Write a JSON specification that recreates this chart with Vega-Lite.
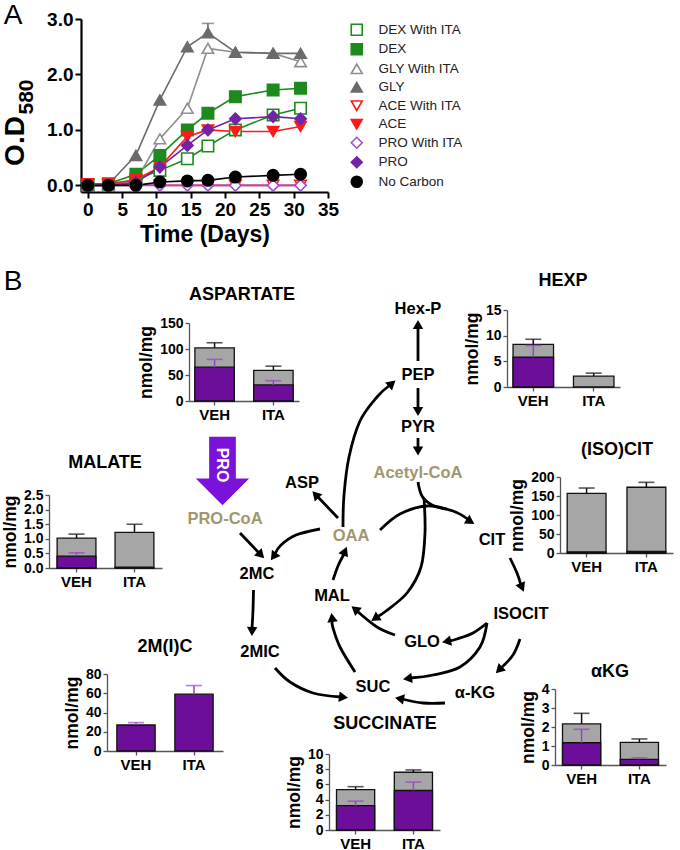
{
  "$schema": "https://vega.github.io/schema/vega-lite/v6.json",
  "width": 680,
  "height": 850,
  "autosize": {"type": "none"},
  "padding": 0,
  "background": "white",
  "config": {
    "view": {"stroke": null},
    "font": "Liberation Sans",
    "text": {"font": "Liberation Sans"},
    "axis": {
      "labelFont": "Liberation Sans", "titleFont": "Liberation Sans",
      "labelFontWeight": "bold", "titleFontWeight": "bold",
      "labelColor": "#000", "titleColor": "#000",
      "labelFontSize": 14, "titleFontSize": 17.5,
      "domainColor": "#555", "tickColor": "#555",
      "domainWidth": 1.3, "tickWidth": 1.3, "tickSize": 4,
      "labelPadding": 2, "titlePadding": 4, "grid": false,
      "labelFlush": false, "labelOverlap": false
    },
    "axisX": {"labelAngle": 0, "labelFontSize": 15}
  },
  "datasets": {
    "growth": [
      {"series": "DEX With ITA", "day": 0, "od": 0}, {"series": "DEX With ITA", "day": 3, "od": 0}, {"series": "DEX With ITA", "day": 7, "od": 0.1}, {"series": "DEX With ITA", "day": 10.5, "od": 0.27}, {"series": "DEX With ITA", "day": 14.5, "od": 0.48}, {"series": "DEX With ITA", "day": 17.5, "od": 0.71}, {"series": "DEX With ITA", "day": 21.5, "od": 1.0}, {"series": "DEX With ITA", "day": 27, "od": 1.27}, {"series": "DEX With ITA", "day": 31, "od": 1.39},
      {"series": "DEX", "day": 0, "od": 0}, {"series": "DEX", "day": 3, "od": 0.03}, {"series": "DEX", "day": 7, "od": 0.2}, {"series": "DEX", "day": 10.5, "od": 0.54}, {"series": "DEX", "day": 14.5, "od": 1.0}, {"series": "DEX", "day": 17.5, "od": 1.3}, {"series": "DEX", "day": 21.5, "od": 1.6}, {"series": "DEX", "day": 27, "od": 1.72}, {"series": "DEX", "day": 31, "od": 1.75},
      {"series": "GLY With ITA", "day": 0, "od": 0}, {"series": "GLY With ITA", "day": 3, "od": 0}, {"series": "GLY With ITA", "day": 7, "od": 0.08}, {"series": "GLY With ITA", "day": 10.5, "od": 0.84}, {"series": "GLY With ITA", "day": 14.5, "od": 1.39}, {"series": "GLY With ITA", "day": 17.5, "od": 2.47}, {"series": "GLY With ITA", "day": 21.5, "od": 2.4}, {"series": "GLY With ITA", "day": 27, "od": 2.38}, {"series": "GLY With ITA", "day": 31, "od": 2.23},
      {"series": "GLY", "day": 0, "od": 0}, {"series": "GLY", "day": 3, "od": 0.02}, {"series": "GLY", "day": 7, "od": 0.54}, {"series": "GLY", "day": 10.5, "od": 1.54}, {"series": "GLY", "day": 14.5, "od": 2.5}, {"series": "GLY", "day": 17.5, "od": 2.75}, {"series": "GLY", "day": 21.5, "od": 2.4}, {"series": "GLY", "day": 27, "od": 2.38}, {"series": "GLY", "day": 31, "od": 2.38},
      {"series": "ACE With ITA", "day": 0, "od": 0.02}, {"series": "ACE With ITA", "day": 3, "od": 0.02}, {"series": "ACE With ITA", "day": 7, "od": 0.01}, {"series": "ACE With ITA", "day": 10.5, "od": 0}, {"series": "ACE With ITA", "day": 14.5, "od": 0}, {"series": "ACE With ITA", "day": 17.5, "od": 0}, {"series": "ACE With ITA", "day": 21.5, "od": 0}, {"series": "ACE With ITA", "day": 27, "od": 0}, {"series": "ACE With ITA", "day": 31, "od": 0},
      {"series": "ACE", "day": 0, "od": 0.03}, {"series": "ACE", "day": 3, "od": 0.03}, {"series": "ACE", "day": 7, "od": 0.1}, {"series": "ACE", "day": 10.5, "od": 0.33}, {"series": "ACE", "day": 14.5, "od": 0.88}, {"series": "ACE", "day": 17.5, "od": 1.0}, {"series": "ACE", "day": 21.5, "od": 0.97}, {"series": "ACE", "day": 27, "od": 0.97}, {"series": "ACE", "day": 31, "od": 1.06},
      {"series": "PRO With ITA", "day": 0, "od": 0}, {"series": "PRO With ITA", "day": 3, "od": 0}, {"series": "PRO With ITA", "day": 7, "od": 0}, {"series": "PRO With ITA", "day": 10.5, "od": 0}, {"series": "PRO With ITA", "day": 14.5, "od": 0}, {"series": "PRO With ITA", "day": 17.5, "od": 0}, {"series": "PRO With ITA", "day": 21.5, "od": 0}, {"series": "PRO With ITA", "day": 27, "od": 0}, {"series": "PRO With ITA", "day": 31, "od": 0},
      {"series": "PRO", "day": 0, "od": 0}, {"series": "PRO", "day": 3, "od": 0}, {"series": "PRO", "day": 7, "od": 0.05}, {"series": "PRO", "day": 10.5, "od": 0.33}, {"series": "PRO", "day": 14.5, "od": 0.72}, {"series": "PRO", "day": 17.5, "od": 1.0}, {"series": "PRO", "day": 21.5, "od": 1.2}, {"series": "PRO", "day": 27, "od": 1.24}, {"series": "PRO", "day": 31, "od": 1.2},
      {"series": "No Carbon", "day": 0, "od": 0}, {"series": "No Carbon", "day": 3, "od": 0}, {"series": "No Carbon", "day": 7, "od": 0}, {"series": "No Carbon", "day": 10.5, "od": 0.06}, {"series": "No Carbon", "day": 14.5, "od": 0.08}, {"series": "No Carbon", "day": 17.5, "od": 0.09}, {"series": "No Carbon", "day": 21.5, "od": 0.15}, {"series": "No Carbon", "day": 27, "od": 0.18}, {"series": "No Carbon", "day": 31, "od": 0.2}
    ],
    "growth_err": [{"series": "GLY", "day": 17.5, "od": 2.75, "hi": 2.92}],
    "metab": [
      {"m": "ASPARTATE", "group": "VEH", "total": 102, "total_hi": 112, "lab": 65, "lab_hi": 80},
      {"m": "ASPARTATE", "group": "ITA", "total": 59, "total_hi": 67, "lab": 31, "lab_hi": 39},
      {"m": "HEXP", "group": "VEH", "total": 8.3, "total_hi": 9.3, "lab": 5.8, "lab_hi": 8.1},
      {"m": "HEXP", "group": "ITA", "total": 2.1, "total_hi": 2.7, "lab": null, "lab_hi": null},
      {"m": "MALATE", "group": "VEH", "total": 1.02, "total_hi": 1.16, "lab": 0.41, "lab_hi": 0.52},
      {"m": "MALATE", "group": "ITA", "total": 1.22, "total_hi": 1.5, "lab": 0.03, "lab_hi": null},
      {"m": "(ISO)CIT", "group": "VEH", "total": 157, "total_hi": 171, "lab": 3, "lab_hi": null},
      {"m": "(ISO)CIT", "group": "ITA", "total": 173, "total_hi": 186, "lab": 4, "lab_hi": null},
      {"m": "2M(I)C", "group": "VEH", "total": null, "total_hi": null, "lab": 27, "lab_hi": 29.5},
      {"m": "2M(I)C", "group": "ITA", "total": null, "total_hi": null, "lab": 59, "lab_hi": 68},
      {"m": "αKG", "group": "VEH", "total": 2.16, "total_hi": 2.72, "lab": 1.17, "lab_hi": 1.88},
      {"m": "αKG", "group": "ITA", "total": 1.19, "total_hi": 1.37, "lab": 0.3, "lab_hi": 0.38},
      {"m": "SUCCINATE", "group": "VEH", "total": 5.3, "total_hi": 5.7, "lab": 3.2, "lab_hi": 3.8},
      {"m": "SUCCINATE", "group": "ITA", "total": 7.6, "total_hi": 7.9, "lab": 5.2, "lab_hi": 6.3}
    ],
    "arrows": [
      {"arrow": "a1", "ord": 0, "x": 418, "y": 361}, {"arrow": "a1", "ord": 1, "x": 418, "y": 328},
      {"arrow": "a2", "ord": 0, "x": 418, "y": 388}, {"arrow": "a2", "ord": 1, "x": 418, "y": 408},
      {"arrow": "a3", "ord": 0, "x": 418, "y": 438}, {"arrow": "a3", "ord": 1, "x": 418, "y": 448},
      {"arrow": "a4", "ord": 0, "x": 338, "y": 518}, {"arrow": "a4", "ord": 1, "x": 317, "y": 496},
      {"arrow": "a5", "ord": 0, "x": 343, "y": 527}, {"arrow": "a5", "ord": 1, "x": 344, "y": 495}, {"arrow": "a5", "ord": 2, "x": 349, "y": 457}, {"arrow": "a5", "ord": 3, "x": 360, "y": 421}, {"arrow": "a5", "ord": 4, "x": 377, "y": 397}, {"arrow": "a5", "ord": 5, "x": 390, "y": 385},
      {"arrow": "a6", "ord": 0, "x": 320, "y": 529}, {"arrow": "a6", "ord": 1, "x": 296, "y": 535}, {"arrow": "a6", "ord": 2, "x": 281, "y": 545}, {"arrow": "a6", "ord": 3, "x": 275, "y": 554},
      {"arrow": "a7", "ord": 0, "x": 240, "y": 533}, {"arrow": "a7", "ord": 1, "x": 259, "y": 553},
      {"arrow": "a8", "ord": 0, "x": 380, "y": 530}, {"arrow": "a8", "ord": 1, "x": 400, "y": 514}, {"arrow": "a8", "ord": 2, "x": 427, "y": 506}, {"arrow": "a8", "ord": 3, "x": 453, "y": 511}, {"arrow": "a8", "ord": 4, "x": 469, "y": 520},
      {"arrow": "a9", "ord": 0, "x": 418, "y": 482}, {"arrow": "a9", "ord": 1, "x": 422, "y": 496}, {"arrow": "a9", "ord": 2, "x": 432, "y": 505}, {"arrow": "a9", "ord": 3, "x": 446, "y": 509},
      {"arrow": "a10", "ord": 0, "x": 424, "y": 498}, {"arrow": "a10", "ord": 1, "x": 425, "y": 533}, {"arrow": "a10", "ord": 2, "x": 421, "y": 567}, {"arrow": "a10", "ord": 3, "x": 407, "y": 593}, {"arrow": "a10", "ord": 4, "x": 386, "y": 611}, {"arrow": "a10", "ord": 5, "x": 377, "y": 617},
      {"arrow": "a11", "ord": 0, "x": 510, "y": 558}, {"arrow": "a11", "ord": 1, "x": 517, "y": 573}, {"arrow": "a11", "ord": 2, "x": 521, "y": 585},
      {"arrow": "a12", "ord": 0, "x": 333, "y": 580}, {"arrow": "a12", "ord": 1, "x": 338, "y": 566}, {"arrow": "a12", "ord": 2, "x": 344, "y": 554},
      {"arrow": "a13", "ord": 0, "x": 253.5, "y": 590}, {"arrow": "a13", "ord": 1, "x": 253, "y": 610}, {"arrow": "a13", "ord": 2, "x": 252, "y": 629},
      {"arrow": "a14", "ord": 0, "x": 275, "y": 668}, {"arrow": "a14", "ord": 1, "x": 290, "y": 682}, {"arrow": "a14", "ord": 2, "x": 313, "y": 693}, {"arrow": "a14", "ord": 3, "x": 341, "y": 697},
      {"arrow": "a15", "ord": 0, "x": 355, "y": 672}, {"arrow": "a15", "ord": 1, "x": 340, "y": 647}, {"arrow": "a15", "ord": 2, "x": 333, "y": 628}, {"arrow": "a15", "ord": 3, "x": 332, "y": 620},
      {"arrow": "a16", "ord": 0, "x": 395, "y": 635}, {"arrow": "a16", "ord": 1, "x": 377, "y": 627}, {"arrow": "a16", "ord": 2, "x": 357, "y": 611},
      {"arrow": "a17", "ord": 0, "x": 487, "y": 623}, {"arrow": "a17", "ord": 1, "x": 473, "y": 633}, {"arrow": "a17", "ord": 2, "x": 457, "y": 639}, {"arrow": "a17", "ord": 3, "x": 449, "y": 641},
      {"arrow": "a18", "ord": 0, "x": 487, "y": 623}, {"arrow": "a18", "ord": 1, "x": 480, "y": 647}, {"arrow": "a18", "ord": 2, "x": 460, "y": 667}, {"arrow": "a18", "ord": 3, "x": 433, "y": 675}, {"arrow": "a18", "ord": 4, "x": 410, "y": 678},
      {"arrow": "a19", "ord": 0, "x": 520, "y": 639}, {"arrow": "a19", "ord": 1, "x": 513, "y": 655}, {"arrow": "a19", "ord": 2, "x": 501, "y": 668},
      {"arrow": "a20", "ord": 0, "x": 445, "y": 703}, {"arrow": "a20", "ord": 1, "x": 423, "y": 703}, {"arrow": "a20", "ord": 2, "x": 402, "y": 699}
    ],
    "heads": [
      {"arrow": "a1", "x": 418, "y": 324.5, "angle": 0},
      {"arrow": "a2", "x": 418, "y": 411.5, "angle": 180},
      {"arrow": "a3", "x": 418, "y": 451, "angle": 180},
      {"arrow": "a4", "x": 315.5, "y": 494.5, "angle": 317},
      {"arrow": "a5", "x": 392, "y": 383.5, "angle": 49},
      {"arrow": "a6", "x": 273.5, "y": 556.5, "angle": 216},
      {"arrow": "a7", "x": 261, "y": 555, "angle": 136},
      {"arrow": "a8", "x": 470.5, "y": 521.5, "angle": 122},
      {"arrow": "a10", "x": 375, "y": 618.5, "angle": 236},
      {"arrow": "a11", "x": 522, "y": 587.5, "angle": 157},
      {"arrow": "a12", "x": 345, "y": 551, "angle": 23},
      {"arrow": "a13", "x": 252, "y": 631.5, "angle": 182},
      {"arrow": "a14", "x": 343.5, "y": 697.3, "angle": 97},
      {"arrow": "a15", "x": 332, "y": 617.5, "angle": 353},
      {"arrow": "a16", "x": 355, "y": 609, "angle": 309},
      {"arrow": "a17", "x": 446.5, "y": 641.5, "angle": 259},
      {"arrow": "a18", "x": 407.5, "y": 678.5, "angle": 262},
      {"arrow": "a19", "x": 499, "y": 670, "angle": 225},
      {"arrow": "a20", "x": 399.5, "y": 698.5, "angle": 281}
    ],
    "nodes": [
      {"name": "Hex-P", "x": 418, "y": 309, "kind": "plain"},
      {"name": "PEP", "x": 418, "y": 375, "kind": "plain"},
      {"name": "PYR", "x": 418, "y": 427, "kind": "plain"},
      {"name": "Acetyl-CoA", "x": 418, "y": 473, "kind": "coa"},
      {"name": "ASP", "x": 302, "y": 483, "kind": "plain"},
      {"name": "OAA", "x": 351, "y": 536, "kind": "coa"},
      {"name": "PRO-CoA", "x": 225, "y": 519, "kind": "coa"},
      {"name": "CIT", "x": 492, "y": 540, "kind": "plain"},
      {"name": "2MC", "x": 257, "y": 574, "kind": "plain"},
      {"name": "MAL", "x": 332, "y": 596, "kind": "plain"},
      {"name": "ISOCIT", "x": 521, "y": 614, "kind": "plain"},
      {"name": "GLO", "x": 422, "y": 642, "kind": "plain"},
      {"name": "2MIC", "x": 260, "y": 652, "kind": "plain"},
      {"name": "SUC", "x": 373, "y": 687, "kind": "plain"},
      {"name": "α-KG", "x": 475, "y": 693, "kind": "plain"}
    ],
    "titles": [
      {"t": "ASPARTATE", "x": 242, "y": 295},
      {"t": "HEXP", "x": 563, "y": 281},
      {"t": "MALATE", "x": 105, "y": 463},
      {"t": "(ISO)CIT", "x": 617, "y": 450},
      {"t": "2M(I)C", "x": 165, "y": 647},
      {"t": "αKG", "x": 610, "y": 672},
      {"t": "SUCCINATE", "x": 385, "y": 724}
    ],
    "panels": [{"t": "A", "x": 13, "y": 16}, {"t": "B", "x": 13, "y": 282}],
    "od_main": [{"t": "O.D", "x": 16, "y": 141}],
    "od_sub": [{"t": "580", "x": 27, "y": 97}],
    "pro_shape": [{"t": "PRO", "x": 222.5, "y": 471}],
    "pro_text": [{"t": "PRO", "x": 222, "y": 465}]
  },
  "layer": [
    {
      "data": {"name": "growth"},
      "mark": {"type": "line", "strokeWidth": 1.6},
      "encoding": {
        "x": {"field": "day", "type": "quantitative", "scale": {"domain": [-1, 35], "range": [81, 328], "nice": false, "zero": false}, "axis": null},
        "y": {"field": "od", "type": "quantitative", "scale": {"domain": [-0.12, 3], "range": [192, 19], "nice": false, "zero": false}, "axis": null},
        "stroke": {"field": "series", "type": "nominal",
                   "scale": {"domain": ["DEX With ITA", "DEX", "GLY With ITA", "GLY", "ACE With ITA", "ACE", "PRO With ITA", "PRO", "No Carbon"],
                             "range": ["#1d8a1d", "#1d8a1d", "#8e8e8e", "#6b6b6b", "#ff1a1a", "#ff1a1a", "#9b4fd0", "#7223a6", "#000000"]},
                   "legend": null},
        "detail": {"field": "series"}
      }
    },
    {
      "data": {"name": "growth_err"},
      "mark": {"type": "rule", "stroke": "#6b6b6b", "strokeWidth": 1.6},
      "encoding": {
        "x": {"field": "day", "type": "quantitative", "scale": {"domain": [-1, 35], "range": [81, 328], "nice": false, "zero": false}, "axis": null},
        "y": {"field": "od", "type": "quantitative", "scale": {"domain": [-0.12, 3], "range": [192, 19], "nice": false, "zero": false}, "axis": null},
        "y2": {"field": "hi"}
      }
    },
    {
      "data": {"name": "growth_err"},
      "mark": {"type": "tick", "orient": "horizontal", "size": 12, "thickness": 1.6, "color": "#6b6b6b"},
      "encoding": {
        "x": {"field": "day", "type": "quantitative", "scale": {"domain": [-1, 35], "range": [81, 328], "nice": false, "zero": false}, "axis": null},
        "y": {"field": "hi", "type": "quantitative", "scale": {"domain": [-0.12, 3], "range": [192, 19], "nice": false, "zero": false}, "axis": null}
      }
    },
    {
      "data": {"name": "growth"},
      "mark": {"type": "point", "size": 130, "strokeWidth": 1.6, "opacity": 1},
      "encoding": {
        "x": {"field": "day", "type": "quantitative", "scale": {"domain": [-1, 35], "range": [81, 328], "nice": false, "zero": false},
              "axis": {"orient": "bottom", "offset": -658, "values": [0, 5, 10, 15, 20, 25, 30, 35], "title": "Time (Days)", "titleFontSize": 23, "titlePadding": 4, "labelFontSize": 19, "labelPadding": 2, "tickSize": 6, "tickWidth": 2, "domainWidth": 2.2, "domainColor": "#000", "tickColor": "#000"}},
        "y": {"field": "od", "type": "quantitative", "scale": {"domain": [-0.12, 3], "range": [192, 19], "nice": false, "zero": false},
              "axis": {"orient": "left", "offset": -81, "values": [0, 1, 2, 3], "format": ".1f", "title": null, "labelFontSize": 19, "labelPadding": 2, "tickSize": 6, "tickWidth": 2, "domainWidth": 2.2, "domainColor": "#000", "tickColor": "#000"}},
        "stroke": {"field": "series", "type": "nominal",
                   "scale": {"domain": ["DEX With ITA", "DEX", "GLY With ITA", "GLY", "ACE With ITA", "ACE", "PRO With ITA", "PRO", "No Carbon"],
                             "range": ["#1d8a1d", "#1d8a1d", "#8e8e8e", "#6b6b6b", "#ff1a1a", "#ff1a1a", "#9b4fd0", "#7223a6", "#000000"]},
                   "legend": {"orient": "none", "legendX": 350, "legendY": 23, "title": null, "labelFontSize": 13.5, "labelFont": "Liberation Sans", "labelColor": "#222", "symbolSize": 120, "symbolStrokeWidth": 1.6, "rowPadding": 1.5, "labelOffset": 15}},
        "fill": {"field": "series", "type": "nominal",
                 "scale": {"domain": ["DEX With ITA", "DEX", "GLY With ITA", "GLY", "ACE With ITA", "ACE", "PRO With ITA", "PRO", "No Carbon"],
                           "range": ["#ffffff", "#1d8a1d", "#ffffff", "#6b6b6b", "#ffffff", "#ff1a1a", "#ffffff", "#7223a6", "#000000"]},
                 "legend": {"orient": "none", "legendX": 350, "legendY": 23, "title": null, "labelFontSize": 13.5, "labelFont": "Liberation Sans", "labelColor": "#222", "symbolSize": 120, "symbolStrokeWidth": 1.6, "rowPadding": 1.5, "labelOffset": 15}},
        "shape": {"field": "series", "type": "nominal",
                  "scale": {"domain": ["DEX With ITA", "DEX", "GLY With ITA", "GLY", "ACE With ITA", "ACE", "PRO With ITA", "PRO", "No Carbon"],
                            "range": ["square", "square", "triangle-up", "triangle-up", "triangle-down", "triangle-down", "diamond", "diamond", "circle"]},
                  "legend": {"orient": "none", "legendX": 350, "legendY": 23, "title": null, "labelFontSize": 13.5, "labelFont": "Liberation Sans", "labelColor": "#222", "symbolSize": 120, "symbolStrokeWidth": 1.6, "rowPadding": 1.5, "labelOffset": 15}}
      }
    },
    {
      "encoding": {
        "x": {"field": "x", "type": "quantitative", "scale": {"domain": [0, 680], "range": [0, 680], "nice": false, "zero": false}, "axis": null},
        "y": {"field": "y", "type": "quantitative", "scale": {"domain": [0, 850], "range": [0, 850], "nice": false, "zero": false}, "axis": null}
      },
      "layer": [
        {"data": {"name": "arrows"}, "mark": {"type": "line", "stroke": "#000", "strokeWidth": 2.8, "interpolate": "cardinal", "strokeCap": "butt"},
         "encoding": {"detail": {"field": "arrow"}, "order": {"field": "ord", "type": "quantitative"}}},
        {"data": {"name": "heads"}, "mark": {"type": "point", "shape": "triangle-up", "filled": true, "fill": "#000", "size": 110, "opacity": 1, "strokeWidth": 0},
         "encoding": {"angle": {"field": "angle", "type": "quantitative", "scale": {"domain": [0, 360], "range": [0, 360]}}}},
        {"data": {"name": "pro_shape"}, "mark": {"type": "point", "shape": "M-0.39,-1L0.39,-1L0.39,0.22L0.78,0.22L0,1L-0.78,0.22L-0.39,0.22Z", "filled": true, "fill": "#7b12d9", "size": 4680, "opacity": 1, "strokeWidth": 0}},
        {"data": {"name": "pro_text"}, "mark": {"type": "text", "angle": 90, "fill": "#ffffff", "fontSize": 16, "fontWeight": "bold", "align": "center", "baseline": "middle"},
         "encoding": {"text": {"field": "t"}}},
        {"data": {"name": "nodes"}, "transform": [{"filter": "datum.kind === 'plain'"}],
         "mark": {"type": "text", "fill": "#000", "fontSize": 16.5, "fontWeight": "bold", "align": "center", "baseline": "middle"},
         "encoding": {"text": {"field": "name"}}},
        {"data": {"name": "nodes"}, "transform": [{"filter": "datum.kind === 'coa'"}],
         "mark": {"type": "text", "fill": "#a0976f", "fontSize": 16.5, "fontWeight": "bold", "align": "center", "baseline": "middle"},
         "encoding": {"text": {"field": "name"}}},
        {"data": {"name": "titles"}, "mark": {"type": "text", "fill": "#000", "fontSize": 18, "fontWeight": "bold", "align": "center", "baseline": "middle"},
         "encoding": {"text": {"field": "t"}}},
        {"data": {"name": "panels"}, "mark": {"type": "text", "fill": "#000", "fontSize": 28, "fontWeight": "normal", "align": "center", "baseline": "middle"},
         "encoding": {"text": {"field": "t"}}},
        {"data": {"name": "od_main"}, "mark": {"type": "text", "fill": "#000", "fontSize": 28, "fontWeight": "bold", "angle": 270, "align": "center", "baseline": "middle"},
         "encoding": {"text": {"field": "t"}}},
        {"data": {"name": "od_sub"}, "mark": {"type": "text", "fill": "#000", "fontSize": 21, "fontWeight": "bold", "angle": 270, "align": "center", "baseline": "middle"},
         "encoding": {"text": {"field": "t"}}}
      ]
    },
    {
      "data": {"name": "metab"},
      "transform": [{"filter": "datum.m === 'ASPARTATE'"}],
      "encoding": {"x": {"field": "group", "type": "nominal", "sort": ["VEH", "ITA"], "scale": {"domain": ["VEH", "ITA"], "range": [189, 299], "paddingInner": 0.33, "paddingOuter": 0.1}, "axis": {"orient": "bottom", "offset": -449, "title": null}}},
      "layer": [
        {"transform": [{"filter": "isValid(datum.total)"}], "mark": {"type": "bar", "fill": "#a6a6a6", "stroke": "#111", "strokeWidth": 1.3}, "encoding": {"y": {"field": "total", "type": "quantitative", "scale": {"domain": [0, 150], "range": [401, 323], "nice": false}, "axis": {"orient": "left", "offset": -189, "values": [0, 50, 100, 150], "title": "nmol/mg"}}}},
        {"transform": [{"filter": "isValid(datum.lab)"}], "mark": {"type": "bar", "fill": "#6c0e99", "stroke": "#111", "strokeWidth": 1.3}, "encoding": {"y": {"field": "lab", "type": "quantitative", "scale": {"domain": [0, 150], "range": [401, 323], "nice": false}, "axis": {"orient": "left", "offset": -189, "values": [0, 50, 100, 150], "title": "nmol/mg"}}}},
        {"transform": [{"filter": "isValid(datum.total_hi)"}], "mark": {"type": "rule", "stroke": "#111", "strokeWidth": 1.5}, "encoding": {"y": {"field": "total", "type": "quantitative", "scale": {"domain": [0, 150], "range": [401, 323], "nice": false}, "axis": {"orient": "left", "offset": -189, "values": [0, 50, 100, 150], "title": "nmol/mg"}}, "y2": {"field": "total_hi"}}},
        {"transform": [{"filter": "isValid(datum.total_hi)"}], "mark": {"type": "tick", "orient": "horizontal", "size": 16, "thickness": 1.6, "color": "#111"}, "encoding": {"y": {"field": "total_hi", "type": "quantitative", "scale": {"domain": [0, 150], "range": [401, 323], "nice": false}, "axis": {"orient": "left", "offset": -189, "values": [0, 50, 100, 150], "title": "nmol/mg"}}}},
        {"transform": [{"filter": "isValid(datum.lab_hi)"}], "mark": {"type": "rule", "stroke": "#9645c6", "strokeWidth": 1.5}, "encoding": {"y": {"field": "lab", "type": "quantitative", "scale": {"domain": [0, 150], "range": [401, 323], "nice": false}, "axis": {"orient": "left", "offset": -189, "values": [0, 50, 100, 150], "title": "nmol/mg"}}, "y2": {"field": "lab_hi"}}},
        {"transform": [{"filter": "isValid(datum.lab_hi)"}], "mark": {"type": "tick", "orient": "horizontal", "size": 16, "thickness": 1.6, "color": "#9645c6"}, "encoding": {"y": {"field": "lab_hi", "type": "quantitative", "scale": {"domain": [0, 150], "range": [401, 323], "nice": false}, "axis": {"orient": "left", "offset": -189, "values": [0, 50, 100, 150], "title": "nmol/mg"}}}}
      ]
    },
    {
      "data": {"name": "metab"},
      "transform": [{"filter": "datum.m === 'HEXP'"}],
      "encoding": {"x": {"field": "group", "type": "nominal", "sort": ["VEH", "ITA"], "scale": {"domain": ["VEH", "ITA"], "range": [507, 620], "paddingInner": 0.33, "paddingOuter": 0.1}, "axis": {"orient": "bottom", "offset": -463, "title": null}}},
      "layer": [
        {"transform": [{"filter": "isValid(datum.total)"}], "mark": {"type": "bar", "fill": "#a6a6a6", "stroke": "#111", "strokeWidth": 1.3}, "encoding": {"y": {"field": "total", "type": "quantitative", "scale": {"domain": [0, 15], "range": [387, 310], "nice": false}, "axis": {"orient": "left", "offset": -507, "values": [0, 5, 10, 15], "title": "nmol/mg"}}}},
        {"transform": [{"filter": "isValid(datum.lab)"}], "mark": {"type": "bar", "fill": "#6c0e99", "stroke": "#111", "strokeWidth": 1.3}, "encoding": {"y": {"field": "lab", "type": "quantitative", "scale": {"domain": [0, 15], "range": [387, 310], "nice": false}, "axis": {"orient": "left", "offset": -507, "values": [0, 5, 10, 15], "title": "nmol/mg"}}}},
        {"transform": [{"filter": "isValid(datum.total_hi)"}], "mark": {"type": "rule", "stroke": "#111", "strokeWidth": 1.5}, "encoding": {"y": {"field": "total", "type": "quantitative", "scale": {"domain": [0, 15], "range": [387, 310], "nice": false}, "axis": {"orient": "left", "offset": -507, "values": [0, 5, 10, 15], "title": "nmol/mg"}}, "y2": {"field": "total_hi"}}},
        {"transform": [{"filter": "isValid(datum.total_hi)"}], "mark": {"type": "tick", "orient": "horizontal", "size": 16, "thickness": 1.6, "color": "#111"}, "encoding": {"y": {"field": "total_hi", "type": "quantitative", "scale": {"domain": [0, 15], "range": [387, 310], "nice": false}, "axis": {"orient": "left", "offset": -507, "values": [0, 5, 10, 15], "title": "nmol/mg"}}}},
        {"transform": [{"filter": "isValid(datum.lab_hi)"}], "mark": {"type": "rule", "stroke": "#9645c6", "strokeWidth": 1.5}, "encoding": {"y": {"field": "lab", "type": "quantitative", "scale": {"domain": [0, 15], "range": [387, 310], "nice": false}, "axis": {"orient": "left", "offset": -507, "values": [0, 5, 10, 15], "title": "nmol/mg"}}, "y2": {"field": "lab_hi"}}},
        {"transform": [{"filter": "isValid(datum.lab_hi)"}], "mark": {"type": "tick", "orient": "horizontal", "size": 16, "thickness": 1.6, "color": "#9645c6"}, "encoding": {"y": {"field": "lab_hi", "type": "quantitative", "scale": {"domain": [0, 15], "range": [387, 310], "nice": false}, "axis": {"orient": "left", "offset": -507, "values": [0, 5, 10, 15], "title": "nmol/mg"}}}}
      ]
    },
    {
      "data": {"name": "metab"},
      "transform": [{"filter": "datum.m === 'MALATE'"}],
      "encoding": {"x": {"field": "group", "type": "nominal", "sort": ["VEH", "ITA"], "scale": {"domain": ["VEH", "ITA"], "range": [49, 162], "paddingInner": 0.33, "paddingOuter": 0.14}, "axis": {"orient": "bottom", "offset": -282, "title": null}}},
      "layer": [
        {"transform": [{"filter": "isValid(datum.total)"}], "mark": {"type": "bar", "fill": "#a6a6a6", "stroke": "#111", "strokeWidth": 1.3}, "encoding": {"y": {"field": "total", "type": "quantitative", "scale": {"domain": [0, 2.5], "range": [568, 495], "nice": false}, "axis": {"orient": "left", "offset": -49, "values": [0, 0.5, 1, 1.5, 2, 2.5], "format": ".1f", "title": "nmol/mg"}}}},
        {"transform": [{"filter": "isValid(datum.lab)"}], "mark": {"type": "bar", "fill": "#6c0e99", "stroke": "#111", "strokeWidth": 1.3}, "encoding": {"y": {"field": "lab", "type": "quantitative", "scale": {"domain": [0, 2.5], "range": [568, 495], "nice": false}, "axis": {"orient": "left", "offset": -49, "values": [0, 0.5, 1, 1.5, 2, 2.5], "format": ".1f", "title": "nmol/mg"}}}},
        {"transform": [{"filter": "isValid(datum.total_hi)"}], "mark": {"type": "rule", "stroke": "#111", "strokeWidth": 1.5}, "encoding": {"y": {"field": "total", "type": "quantitative", "scale": {"domain": [0, 2.5], "range": [568, 495], "nice": false}, "axis": {"orient": "left", "offset": -49, "values": [0, 0.5, 1, 1.5, 2, 2.5], "format": ".1f", "title": "nmol/mg"}}, "y2": {"field": "total_hi"}}},
        {"transform": [{"filter": "isValid(datum.total_hi)"}], "mark": {"type": "tick", "orient": "horizontal", "size": 16, "thickness": 1.6, "color": "#111"}, "encoding": {"y": {"field": "total_hi", "type": "quantitative", "scale": {"domain": [0, 2.5], "range": [568, 495], "nice": false}, "axis": {"orient": "left", "offset": -49, "values": [0, 0.5, 1, 1.5, 2, 2.5], "format": ".1f", "title": "nmol/mg"}}}},
        {"transform": [{"filter": "isValid(datum.lab_hi)"}], "mark": {"type": "rule", "stroke": "#9645c6", "strokeWidth": 1.5}, "encoding": {"y": {"field": "lab", "type": "quantitative", "scale": {"domain": [0, 2.5], "range": [568, 495], "nice": false}, "axis": {"orient": "left", "offset": -49, "values": [0, 0.5, 1, 1.5, 2, 2.5], "format": ".1f", "title": "nmol/mg"}}, "y2": {"field": "lab_hi"}}},
        {"transform": [{"filter": "isValid(datum.lab_hi)"}], "mark": {"type": "tick", "orient": "horizontal", "size": 16, "thickness": 1.6, "color": "#9645c6"}, "encoding": {"y": {"field": "lab_hi", "type": "quantitative", "scale": {"domain": [0, 2.5], "range": [568, 495], "nice": false}, "axis": {"orient": "left", "offset": -49, "values": [0, 0.5, 1, 1.5, 2, 2.5], "format": ".1f", "title": "nmol/mg"}}}}
      ]
    },
    {
      "data": {"name": "metab"},
      "transform": [{"filter": "datum.m === '(ISO)CIT'"}],
      "encoding": {"x": {"field": "group", "type": "nominal", "sort": ["VEH", "ITA"], "scale": {"domain": ["VEH", "ITA"], "range": [560, 673], "paddingInner": 0.35, "paddingOuter": 0.12}, "axis": {"orient": "bottom", "offset": -297, "title": null}}},
      "layer": [
        {"transform": [{"filter": "isValid(datum.total)"}], "mark": {"type": "bar", "fill": "#a6a6a6", "stroke": "#111", "strokeWidth": 1.3}, "encoding": {"y": {"field": "total", "type": "quantitative", "scale": {"domain": [0, 200], "range": [553, 477], "nice": false}, "axis": {"orient": "left", "offset": -560, "values": [0, 50, 100, 150, 200], "title": "nmol/mg"}}}},
        {"transform": [{"filter": "isValid(datum.lab)"}], "mark": {"type": "bar", "fill": "#6c0e99", "stroke": "#111", "strokeWidth": 1.3}, "encoding": {"y": {"field": "lab", "type": "quantitative", "scale": {"domain": [0, 200], "range": [553, 477], "nice": false}, "axis": {"orient": "left", "offset": -560, "values": [0, 50, 100, 150, 200], "title": "nmol/mg"}}}},
        {"transform": [{"filter": "isValid(datum.total_hi)"}], "mark": {"type": "rule", "stroke": "#111", "strokeWidth": 1.5}, "encoding": {"y": {"field": "total", "type": "quantitative", "scale": {"domain": [0, 200], "range": [553, 477], "nice": false}, "axis": {"orient": "left", "offset": -560, "values": [0, 50, 100, 150, 200], "title": "nmol/mg"}}, "y2": {"field": "total_hi"}}},
        {"transform": [{"filter": "isValid(datum.total_hi)"}], "mark": {"type": "tick", "orient": "horizontal", "size": 16, "thickness": 1.6, "color": "#111"}, "encoding": {"y": {"field": "total_hi", "type": "quantitative", "scale": {"domain": [0, 200], "range": [553, 477], "nice": false}, "axis": {"orient": "left", "offset": -560, "values": [0, 50, 100, 150, 200], "title": "nmol/mg"}}}}
      ]
    },
    {
      "data": {"name": "metab"},
      "transform": [{"filter": "datum.m === '2M(I)C'"}],
      "encoding": {"x": {"field": "group", "type": "nominal", "sort": ["VEH", "ITA"], "scale": {"domain": ["VEH", "ITA"], "range": [107, 223], "paddingInner": 0.34, "paddingOuter": 0.17}, "axis": {"orient": "bottom", "offset": -99, "title": null}}},
      "layer": [
        {"transform": [{"filter": "isValid(datum.lab)"}], "mark": {"type": "bar", "fill": "#6c0e99", "stroke": "#111", "strokeWidth": 1.3}, "encoding": {"y": {"field": "lab", "type": "quantitative", "scale": {"domain": [0, 80], "range": [751, 674], "nice": false}, "axis": {"orient": "left", "offset": -107, "values": [0, 20, 40, 60, 80], "title": "nmol/mg"}}}},
        {"transform": [{"filter": "isValid(datum.lab_hi)"}], "mark": {"type": "rule", "stroke": "#9645c6", "strokeWidth": 1.5}, "encoding": {"y": {"field": "lab", "type": "quantitative", "scale": {"domain": [0, 80], "range": [751, 674], "nice": false}, "axis": {"orient": "left", "offset": -107, "values": [0, 20, 40, 60, 80], "title": "nmol/mg"}}, "y2": {"field": "lab_hi"}}},
        {"transform": [{"filter": "isValid(datum.lab_hi)"}], "mark": {"type": "tick", "orient": "horizontal", "size": 16, "thickness": 1.6, "color": "#9645c6"}, "encoding": {"y": {"field": "lab_hi", "type": "quantitative", "scale": {"domain": [0, 80], "range": [751, 674], "nice": false}, "axis": {"orient": "left", "offset": -107, "values": [0, 20, 40, 60, 80], "title": "nmol/mg"}}}}
      ]
    },
    {
      "data": {"name": "metab"},
      "transform": [{"filter": "datum.m === 'αKG'"}],
      "encoding": {"x": {"field": "group", "type": "nominal", "sort": ["VEH", "ITA"], "scale": {"domain": ["VEH", "ITA"], "range": [555, 666], "paddingInner": 0.34, "paddingOuter": 0.13}, "axis": {"orient": "bottom", "offset": -85, "title": null}}},
      "layer": [
        {"transform": [{"filter": "isValid(datum.total)"}], "mark": {"type": "bar", "fill": "#a6a6a6", "stroke": "#111", "strokeWidth": 1.3}, "encoding": {"y": {"field": "total", "type": "quantitative", "scale": {"domain": [0, 4], "range": [765, 689], "nice": false}, "axis": {"orient": "left", "offset": -555, "values": [0, 1, 2, 3, 4], "title": "nmol/mg"}}}},
        {"transform": [{"filter": "isValid(datum.lab)"}], "mark": {"type": "bar", "fill": "#6c0e99", "stroke": "#111", "strokeWidth": 1.3}, "encoding": {"y": {"field": "lab", "type": "quantitative", "scale": {"domain": [0, 4], "range": [765, 689], "nice": false}, "axis": {"orient": "left", "offset": -555, "values": [0, 1, 2, 3, 4], "title": "nmol/mg"}}}},
        {"transform": [{"filter": "isValid(datum.total_hi)"}], "mark": {"type": "rule", "stroke": "#111", "strokeWidth": 1.5}, "encoding": {"y": {"field": "total", "type": "quantitative", "scale": {"domain": [0, 4], "range": [765, 689], "nice": false}, "axis": {"orient": "left", "offset": -555, "values": [0, 1, 2, 3, 4], "title": "nmol/mg"}}, "y2": {"field": "total_hi"}}},
        {"transform": [{"filter": "isValid(datum.total_hi)"}], "mark": {"type": "tick", "orient": "horizontal", "size": 16, "thickness": 1.6, "color": "#111"}, "encoding": {"y": {"field": "total_hi", "type": "quantitative", "scale": {"domain": [0, 4], "range": [765, 689], "nice": false}, "axis": {"orient": "left", "offset": -555, "values": [0, 1, 2, 3, 4], "title": "nmol/mg"}}}},
        {"transform": [{"filter": "isValid(datum.lab_hi)"}], "mark": {"type": "rule", "stroke": "#9645c6", "strokeWidth": 1.5}, "encoding": {"y": {"field": "lab", "type": "quantitative", "scale": {"domain": [0, 4], "range": [765, 689], "nice": false}, "axis": {"orient": "left", "offset": -555, "values": [0, 1, 2, 3, 4], "title": "nmol/mg"}}, "y2": {"field": "lab_hi"}}},
        {"transform": [{"filter": "isValid(datum.lab_hi)"}], "mark": {"type": "tick", "orient": "horizontal", "size": 16, "thickness": 1.6, "color": "#9645c6"}, "encoding": {"y": {"field": "lab_hi", "type": "quantitative", "scale": {"domain": [0, 4], "range": [765, 689], "nice": false}, "axis": {"orient": "left", "offset": -555, "values": [0, 1, 2, 3, 4], "title": "nmol/mg"}}}}
      ]
    },
    {
      "data": {"name": "metab"},
      "transform": [{"filter": "datum.m === 'SUCCINATE'"}],
      "encoding": {"x": {"field": "group", "type": "nominal", "sort": ["VEH", "ITA"], "scale": {"domain": ["VEH", "ITA"], "range": [329, 440], "paddingInner": 0.34, "paddingOuter": 0.13}, "axis": {"orient": "bottom", "offset": -20, "title": null}}},
      "layer": [
        {"transform": [{"filter": "isValid(datum.total)"}], "mark": {"type": "bar", "fill": "#a6a6a6", "stroke": "#111", "strokeWidth": 1.3}, "encoding": {"y": {"field": "total", "type": "quantitative", "scale": {"domain": [0, 10], "range": [830, 754], "nice": false}, "axis": {"orient": "left", "offset": -329, "values": [0, 2, 4, 6, 8, 10], "title": "nmol/mg"}}}},
        {"transform": [{"filter": "isValid(datum.lab)"}], "mark": {"type": "bar", "fill": "#6c0e99", "stroke": "#111", "strokeWidth": 1.3}, "encoding": {"y": {"field": "lab", "type": "quantitative", "scale": {"domain": [0, 10], "range": [830, 754], "nice": false}, "axis": {"orient": "left", "offset": -329, "values": [0, 2, 4, 6, 8, 10], "title": "nmol/mg"}}}},
        {"transform": [{"filter": "isValid(datum.total_hi)"}], "mark": {"type": "rule", "stroke": "#111", "strokeWidth": 1.5}, "encoding": {"y": {"field": "total", "type": "quantitative", "scale": {"domain": [0, 10], "range": [830, 754], "nice": false}, "axis": {"orient": "left", "offset": -329, "values": [0, 2, 4, 6, 8, 10], "title": "nmol/mg"}}, "y2": {"field": "total_hi"}}},
        {"transform": [{"filter": "isValid(datum.total_hi)"}], "mark": {"type": "tick", "orient": "horizontal", "size": 16, "thickness": 1.6, "color": "#111"}, "encoding": {"y": {"field": "total_hi", "type": "quantitative", "scale": {"domain": [0, 10], "range": [830, 754], "nice": false}, "axis": {"orient": "left", "offset": -329, "values": [0, 2, 4, 6, 8, 10], "title": "nmol/mg"}}}},
        {"transform": [{"filter": "isValid(datum.lab_hi)"}], "mark": {"type": "rule", "stroke": "#9645c6", "strokeWidth": 1.5}, "encoding": {"y": {"field": "lab", "type": "quantitative", "scale": {"domain": [0, 10], "range": [830, 754], "nice": false}, "axis": {"orient": "left", "offset": -329, "values": [0, 2, 4, 6, 8, 10], "title": "nmol/mg"}}, "y2": {"field": "lab_hi"}}},
        {"transform": [{"filter": "isValid(datum.lab_hi)"}], "mark": {"type": "tick", "orient": "horizontal", "size": 16, "thickness": 1.6, "color": "#9645c6"}, "encoding": {"y": {"field": "lab_hi", "type": "quantitative", "scale": {"domain": [0, 10], "range": [830, 754], "nice": false}, "axis": {"orient": "left", "offset": -329, "values": [0, 2, 4, 6, 8, 10], "title": "nmol/mg"}}}}
      ]
    }
  ],
  "resolve": {
    "scale": {"x": "independent", "y": "independent", "stroke": "independent", "fill": "independent", "shape": "independent", "angle": "independent"},
    "axis": {"x": "independent", "y": "independent"}
  }
}
